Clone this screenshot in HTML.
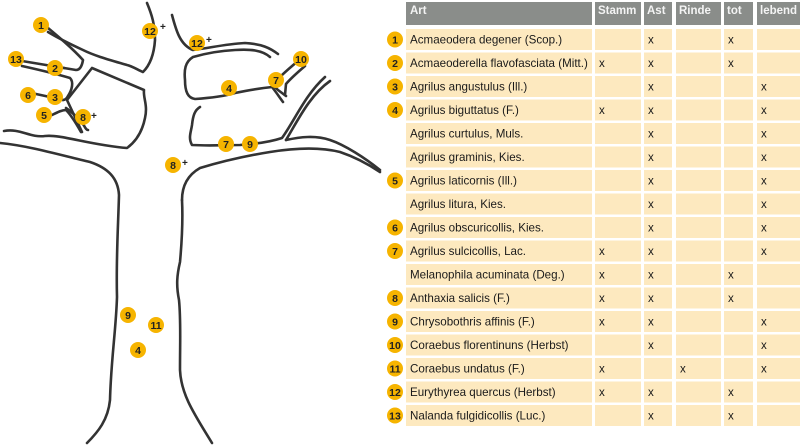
<!DOCTYPE html>
<html><head><meta charset="utf-8"><style>
html,body{margin:0;padding:0;background:#fff;}
svg{display:block;}
text{font-family:"Liberation Sans",sans-serif;}
.b{fill:#f6b400;}
.n{font-size:10.5px;font-weight:bold;fill:#222;text-anchor:middle;}
.p{font-size:10px;font-weight:bold;fill:#222;}
.h{font-size:11.5px;font-weight:bold;fill:#f4f4f4;}
.t{font-size:11.6px;fill:#1a1a1a;}
.r{fill:#fde9bf;}
.l{fill:none;stroke:#333;stroke-width:2.6;stroke-linecap:round;stroke-linejoin:round;}
</style></head><body>
<svg width="800" height="445" viewBox="0 0 800 445">
<g class="l">
<path d="M4,131 C20,128 30,138 45,136 C60,134 90,145 127,148 C138,140 143,128 145,118 C148,105 143,98 144,90 L92,68 L67,100 L82,132"/>
<path d="M0,143 C30,146 60,155 90,162 C108,168 118,178 119,195 C118,230 116,260 117,297 C116,330 111,360 110,400 C108,420 98,432 87,443"/>
<path d="M147,3 C152,15 155,25 155,40 C154,55 150,65 143,72 C138,70 132,66 127,65 C110,60 95,56 83,50 C70,44 58,38 48,32"/>
<path d="M48,28 C60,38 72,48 83,60 C82,66 80,70 76,70 L64,68"/>
<path d="M22,61 L64,68"/>
<path d="M22,66 C40,70 60,75 70,78 C74,82 72,90 68,96 C66,100 64,100 63,100"/>
<path d="M36,94 L50,97 L63,100"/>
<path d="M52,115 C58,112 62,110 66,110 C72,116 77,125 81,132"/>
<path d="M66,108 C72,112 78,118 83,124 C85,127 86,130 88,130"/>
<path d="M172,15 C176,30 180,45 193,50 C210,48 225,44 245,43 C262,44 270,48 278,54"/>
<path d="M270,57 C262,50 250,49 235,50 C215,51 200,55 193,57 C185,62 184,70 185,80 C185,92 188,98 195,99 C210,98 225,96 235,93 C250,90 262,88 272,87 C276,92 280,98 283,102"/>
<path d="M272,84 L278,90 L286,96"/>
<path d="M298,61 C292,66 286,71 280,77"/>
<path d="M305,66 C298,72 291,78 286,84 L285,95"/>
<path d="M200,107 C195,110 193,115 192,125 C191,132 188,138 192,145 C210,146 225,145 240,145 C255,144 270,142 282,138 C295,120 305,95 325,77"/>
<path d="M286,140 C298,120 310,95 330,81"/>
<path d="M286,140 C300,137 315,135 330,140 C345,145 365,158 380,170"/>
<path d="M182,200 C182,188 186,176 200,168 C220,162 245,156 270,152 C295,148 320,147 340,152 C355,157 368,164 380,172"/>
<path d="M182,200 C183,220 182,240 180,262 C177,275 176,285 179,300 C181,320 180,340 180,370 C181,395 195,415 212,443"/>
</g>
<g>
<circle class="b" cx="41" cy="25" r="8"/><text class="n" x="41" y="29">1</text>
<circle class="b" cx="150" cy="31" r="8"/><text class="n" x="150" y="35">12</text><text class="p" x="160" y="30">+</text>
<circle class="b" cx="197" cy="43" r="8"/><text class="n" x="197" y="47">12</text><text class="p" x="206" y="43">+</text>
<circle class="b" cx="16" cy="59" r="8"/><text class="n" x="16" y="63">13</text>
<circle class="b" cx="55" cy="68" r="8"/><text class="n" x="55" y="72">2</text>
<circle class="b" cx="28" cy="95" r="8"/><text class="n" x="28" y="99">6</text>
<circle class="b" cx="55" cy="97" r="8"/><text class="n" x="55" y="101">3</text>
<circle class="b" cx="44" cy="115" r="8"/><text class="n" x="44" y="119">5</text>
<circle class="b" cx="83" cy="117" r="8"/><text class="n" x="83" y="121">8</text><text class="p" x="91" y="119">+</text>
<circle class="b" cx="229" cy="88" r="8"/><text class="n" x="229" y="92">4</text>
<circle class="b" cx="276" cy="80" r="8"/><text class="n" x="276" y="84">7</text>
<circle class="b" cx="301" cy="59" r="8"/><text class="n" x="301" y="63">10</text>
<circle class="b" cx="226" cy="144" r="8"/><text class="n" x="226" y="148">7</text>
<circle class="b" cx="250" cy="144" r="8"/><text class="n" x="250" y="148">9</text>
<circle class="b" cx="173" cy="165" r="8"/><text class="n" x="173" y="169">8</text><text class="p" x="182" y="166">+</text>
<circle class="b" cx="128" cy="315" r="8"/><text class="n" x="128" y="319">9</text>
<circle class="b" cx="156" cy="325" r="8"/><text class="n" x="156" y="329">11</text>
<circle class="b" cx="138" cy="350" r="8"/><text class="n" x="138" y="354">4</text>
</g>
<g fill="#8a8d8a">
<rect x="406" y="2" width="186" height="23"/><rect x="595" y="2" width="46" height="23"/><rect x="644" y="2" width="28" height="23"/><rect x="676" y="2" width="45" height="23"/><rect x="724" y="2" width="29" height="23"/><rect x="757" y="2" width="43" height="23"/>
</g>
<text class="h" x="410" y="14">Art</text><text class="h" x="598" y="14">Stamm</text><text class="h" x="647" y="14">Ast</text><text class="h" x="679" y="14">Rinde</text><text class="h" x="727" y="14">tot</text><text class="h" x="760" y="14">lebend</text>
<defs><g id="row">
<rect class="r" x="406" y="0" width="186" height="21"/><rect class="r" x="595" y="0" width="46" height="21"/><rect class="r" x="644" y="0" width="28" height="21"/><rect class="r" x="676" y="0" width="45" height="21"/><rect class="r" x="724" y="0" width="29" height="21"/><rect class="r" x="757" y="0" width="43" height="21"/>
</g></defs>
<use href="#row" y="29"/><use href="#row" y="52.5"/><use href="#row" y="76"/><use href="#row" y="99.5"/><use href="#row" y="123"/><use href="#row" y="146.5"/><use href="#row" y="170"/><use href="#row" y="193.5"/><use href="#row" y="217"/><use href="#row" y="240.5"/><use href="#row" y="264"/><use href="#row" y="287.5"/><use href="#row" y="311"/><use href="#row" y="334.5"/><use href="#row" y="358"/><use href="#row" y="381.5"/><use href="#row" y="405"/>
<g>
<circle class="b" cx="395" cy="39.5" r="8"/><text class="n" x="395" y="43.5">1</text>
<circle class="b" cx="395" cy="63" r="8"/><text class="n" x="395" y="67">2</text>
<circle class="b" cx="395" cy="86.5" r="8"/><text class="n" x="395" y="90.5">3</text>
<circle class="b" cx="395" cy="110" r="8"/><text class="n" x="395" y="114">4</text>
<circle class="b" cx="395" cy="180.5" r="8"/><text class="n" x="395" y="184.5">5</text>
<circle class="b" cx="395" cy="227.5" r="8"/><text class="n" x="395" y="231.5">6</text>
<circle class="b" cx="395" cy="251" r="8"/><text class="n" x="395" y="255">7</text>
<circle class="b" cx="395" cy="298" r="8"/><text class="n" x="395" y="302">8</text>
<circle class="b" cx="395" cy="321.5" r="8"/><text class="n" x="395" y="325.5">9</text>
<circle class="b" cx="395" cy="345" r="8"/><text class="n" x="395" y="349">10</text>
<circle class="b" cx="395" cy="368.5" r="8"/><text class="n" x="395" y="372.5">11</text>
<circle class="b" cx="395" cy="392" r="8"/><text class="n" x="395" y="396">12</text>
<circle class="b" cx="395" cy="415.5" r="8"/><text class="n" x="395" y="419.5">13</text>
</g>
<g class="t">
<text x="410" y="43.5">Acmaeodera degener (Scop.)</text><text x="648" y="43.5">x</text><text x="728" y="43.5">x</text>
<text x="410" y="67">Acmaeoderella flavofasciata (Mitt.)</text><text x="599" y="67">x</text><text x="648" y="67">x</text><text x="728" y="67">x</text>
<text x="410" y="90.5">Agrilus angustulus (Ill.)</text><text x="648" y="90.5">x</text><text x="761" y="90.5">x</text>
<text x="410" y="114">Agrilus biguttatus (F.)</text><text x="599" y="114">x</text><text x="648" y="114">x</text><text x="761" y="114">x</text>
<text x="410" y="137.5">Agrilus curtulus, Muls.</text><text x="648" y="137.5">x</text><text x="761" y="137.5">x</text>
<text x="410" y="161">Agrilus graminis, Kies.</text><text x="648" y="161">x</text><text x="761" y="161">x</text>
<text x="410" y="184.5">Agrilus laticornis (Ill.)</text><text x="648" y="184.5">x</text><text x="761" y="184.5">x</text>
<text x="410" y="208">Agrilus litura, Kies.</text><text x="648" y="208">x</text><text x="761" y="208">x</text>
<text x="410" y="231.5">Agrilus obscuricollis, Kies.</text><text x="648" y="231.5">x</text><text x="761" y="231.5">x</text>
<text x="410" y="255">Agrilus sulcicollis, Lac.</text><text x="599" y="255">x</text><text x="648" y="255">x</text><text x="761" y="255">x</text>
<text x="410" y="278.5">Melanophila acuminata (Deg.)</text><text x="599" y="278.5">x</text><text x="648" y="278.5">x</text><text x="728" y="278.5">x</text>
<text x="410" y="302">Anthaxia salicis (F.)</text><text x="599" y="302">x</text><text x="648" y="302">x</text><text x="728" y="302">x</text>
<text x="410" y="325.5">Chrysobothris affinis (F.)</text><text x="599" y="325.5">x</text><text x="648" y="325.5">x</text><text x="761" y="325.5">x</text>
<text x="410" y="349">Coraebus florentinuns (Herbst)</text><text x="648" y="349">x</text><text x="761" y="349">x</text>
<text x="410" y="372.5">Coraebus undatus (F.)</text><text x="599" y="372.5">x</text><text x="680" y="372.5">x</text><text x="761" y="372.5">x</text>
<text x="410" y="396">Eurythyrea quercus (Herbst)</text><text x="599" y="396">x</text><text x="648" y="396">x</text><text x="728" y="396">x</text>
<text x="410" y="419.5">Nalanda fulgidicollis (Luc.)</text><text x="648" y="419.5">x</text><text x="728" y="419.5">x</text>
</g>
</svg>
</body></html>
